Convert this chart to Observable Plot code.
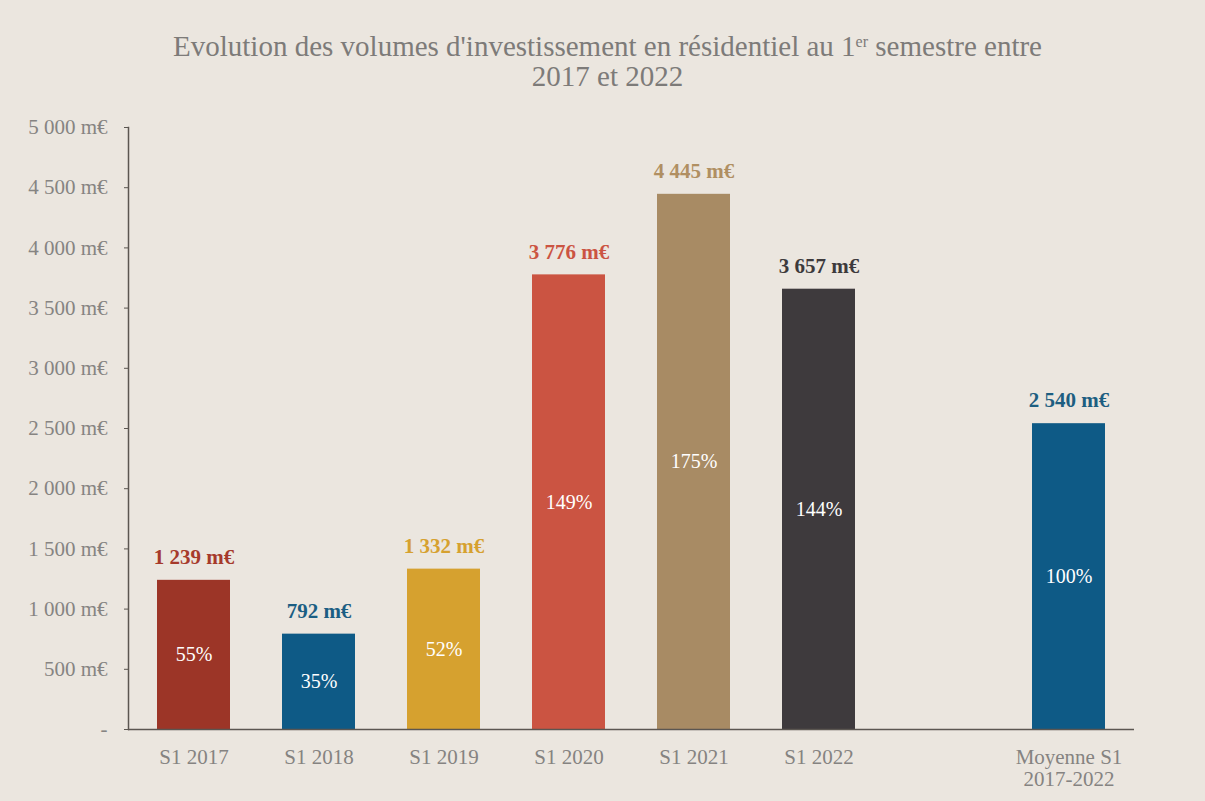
<!DOCTYPE html>
<html>
<head>
<meta charset="utf-8">
<script src="https://cdn.jsdelivr.net/npm/d3@7"></script>
<script src="https://cdn.jsdelivr.net/npm/@observablehq/plot@0.6"></script>
<style>
  html, body { margin: 0; padding: 0; background: #ebe6df; }
  #wrap { width: 1205px; height: 801px; background: #ebe6df; overflow: hidden; }
  #title {
    height: 100px; box-sizing: border-box; padding-top: 31px;
    font-family: 'Liberation Serif', 'Times New Roman', serif; font-size: 29px; line-height: 30px;
    color: #7d7b79; text-align: center; padding-left: 10px;
  }
  #title sup { font-size: 16px; vertical-align: 9px; line-height: 0; }
</style>
</head>
<body>
<div id="wrap">
  <div id="title">Evolution des volumes d'investissement en résidentiel au 1<sup>er</sup> semestre entre<br>2017 et 2022</div>
  <div id="chart"></div>
</div>
<script>
// ---- data ----
const categories = ["S1 2017", "S1 2018", "S1 2019", "S1 2020", "S1 2021", "S1 2022", "Moyenne S1\n2017-2022"];
const values = [1239, 792, 1332, 3776, 4445, 3657, 2540];
const percents = ["55%", "35%", "52%", "149%", "175%", "144%", "100%"];
const barColors = ["#9c3527", "#0e5a86", "#d6a12f", "#cb5442", "#a88b64", "#3e3a3d", "#0e5a86"];
const labelColors = ["#a63a2b", "#1b5e83", "#d6a12f", "#cb5442", "#b08f62", "#3d3a3c", "#1d5e81"];
const spacer = " ";
const xDomain = [...categories.slice(0, 6), spacer, categories[6]];
const yTicks = [0, 500, 1000, 1500, 2000, 2500, 3000, 3500, 4000, 4500, 5000];

const data = categories.map((c, i) => ({
  cat: c, value: values[i], pct: percents[i], bar: barColors[i], lab: labelColors[i]
}));

const fmt = v => v === 0 ? "-" : d3.format(",")(v).replace(/,/g, "\u00a0") + " m€";

const axisColor = "#5b5651";

const chart = Plot.plot({
  width: 1205,
  height: 701,
  marginTop: 27,
  marginBottom: 72,
  marginLeft: 128,
  marginRight: 71,
  style: { fontFamily: "Liberation Serif, serif", fontSize: "20px", background: "transparent", overflow: "visible" },
  x: { type: "band", domain: xDomain, paddingInner: 0.42, paddingOuter: 0.21, align: 0.5, label: null },
  y: { domain: [0, 5000], label: null },
  color: { type: "identity" },
  marks: [
    Plot.barY(data, { x: "cat", y: "value", fill: "bar" }),
    Plot.ruleY([0], { stroke: axisColor, strokeWidth: 1.5 }),
    Plot.frame({ anchor: "left", stroke: axisColor, strokeWidth: 1.5 }),
    Plot.axisY({ ticks: yTicks, tickSize: 4, tickPadding: 17, tickFormat: fmt, stroke: axisColor, fill: "#868482", fontSize: 21, label: null }),
    Plot.axisX({ tickSize: 0, tickPadding: 19, fill: "#858381", fontSize: 21, label: null, lineHeight: 1.05 }),
    Plot.text(data, { x: "cat", y: "value", text: d => fmt(d.value), fill: "lab", fontWeight: "bold", fontSize: 21, dy: -23, lineAnchor: "middle" }),
    Plot.text(data, { x: "cat", y: d => d.value / 2, text: "pct", fill: "#ffffff", fontSize: 20, lineAnchor: "middle" })
  ]
});
document.getElementById("chart").appendChild(chart);
</script>
</body>
</html>
